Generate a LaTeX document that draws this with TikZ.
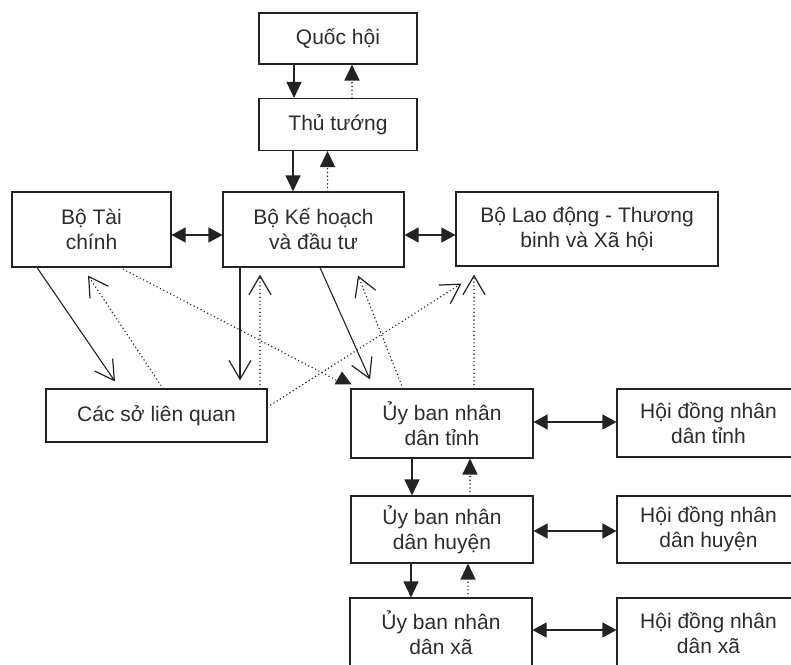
\documentclass[tikz,border=0pt]{standalone}
\usepackage{fontspec}
\setmainfont{Liberation Sans}
\usetikzlibrary{arrows.meta}
\definecolor{ink}{RGB}{35,35,35}
\definecolor{txt}{RGB}{45,45,45}
\tikzset{
  box/.style={draw=ink, line width=1.1pt, align=center, inner sep=0pt,
              font=\fontsize{21}{25}\selectfont, text=txt},
  solidln/.style={draw=ink, line width=1.1pt},
  dotln/.style={draw=ink, line width=1.6pt, line cap=round, dash pattern=on 0pt off 3.8pt},
  fhead/.style={-{Triangle[length=16pt,width=15pt]}},
  dhead/.style={{Triangle[length=14pt,width=15pt]}-{Triangle[length=14pt,width=15pt]}},
  ohead/.style={-{Straight Barb[length=19pt,width=22pt,line width=1.2pt]}},
}
\begin{document}
\begin{tikzpicture}[x=1pt,y=-1pt]
\useasboundingbox (0,0) rectangle (791,664);
\fill[white] (0,0) rectangle (791,664);
\clip (0,0) rectangle (791,664);

% boxes
\node[box, minimum width=158pt, minimum height=51pt] (qh) at (338,38.5) {Quốc hội};
\node[box, minimum width=158pt, minimum height=52pt] (tt) at (338,124.5) {Thủ tướng};
\node[box, minimum width=159pt, minimum height=75pt] (tc) at (91.5,229.5) {Bộ Tài\\chính};
\node[box, minimum width=181pt, minimum height=75pt] (kh) at (313.5,229.5) {Bộ Kế hoạch\\và đầu tư};
\node[box, minimum width=262pt, minimum height=74pt] (ld) at (587,229) {Bộ Lao động - Thương\\binh và Xã hội};
\node[box, minimum width=221pt, minimum height=53pt] (cs) at (156.5,415.5) {Các sở liên quan};
\node[box, minimum width=182pt, minimum height=69pt] (ubt) at (442,423.5) {Ủy ban nhân\\dân tỉnh};
\node[box, minimum width=183pt, minimum height=68pt] (hdt) at (708.5,423) {Hội đồng nhân\\dân tỉnh};
\node[box, minimum width=182pt, minimum height=67pt] (ubh) at (442,529.5) {Ủy ban nhân\\dân huyện};
\node[box, minimum width=183pt, minimum height=67pt] (hdh) at (708.5,529.5) {Hội đồng nhân\\dân huyện};
\node[box, minimum width=182pt, minimum height=70pt] (ubx) at (441,633) {Ủy ban nhân\\dân xã};
\node[box, minimum width=183pt, minimum height=70pt] (hdx) at (708.5,633) {Hội đồng nhân\\dân xã};

% Quoc hoi <-> Thu tuong
\coordinate (a1) at ([xshift=-44pt]qh.south);
\draw[solidln,fhead] (a1) -- (a1 |- tt.north);
\coordinate (a2) at ([xshift=14pt]tt.north);
\draw[dotln,fhead] (a2) -- (a2 |- qh.south);

% Thu tuong <-> Bo KH
\coordinate (a3) at ([xshift=-45pt]tt.south);
\draw[solidln,fhead] (a3) -- (a3 |- kh.north);
\coordinate (a4) at ([xshift=14pt]kh.north);
\draw[dotln,fhead] (a4) -- (a4 |- tt.south);

% horizontal double arrows among ministries
\coordinate (h1) at ([yshift=-5.5pt]tc.east);
\draw[solidln,dhead] (h1) -- (h1 -| kh.west);
\coordinate (h2) at ([yshift=-5.5pt]kh.east);
\draw[solidln,dhead] (h2) -- (h2 -| ld.west);

% Bo Tai chinh <-> Cac so
\draw[solidln,ohead] ([xshift=-54.5pt]tc.south) -- ([xshift=-41.5pt,yshift=7pt]cs.north);
\draw[dotln,ohead] ([xshift=6.5pt]cs.north) -- ([xshift=-3.5pt,yshift=-8pt]tc.south);

% Bo Tai chinh -> UBND tinh (dotted, filled triangle)
\coordinate (tri) at ([xshift=-99pt,yshift=4pt]ubt.north);
\draw[dotln] ([xshift=28.5pt]tc.south) -- ([xshift=-6pt,yshift=4pt]tri);
\fill[ink] ([xshift=-8.5pt]tri) -- ([xshift=8.5pt]tri) -- ([xshift=-1pt,yshift=13pt]tri) -- cycle;

% Bo KH <-> Cac so
\coordinate (b1) at ([xshift=-73.5pt]kh.south);
\draw[solidln,ohead,shorten >=8pt] (b1) -- (b1 |- cs.north);
\coordinate (b2) at ([xshift=103.5pt]cs.north);
\draw[dotln,ohead,shorten >=7pt] (b2) -- (b2 |- kh.south);

% Bo KH <-> UBND tinh
\draw[solidln,ohead] ([xshift=6.5pt]kh.south) -- ([xshift=-72pt,yshift=9pt]ubt.north);
\draw[dotln,ohead] ([xshift=-39pt]ubt.north) -- ([xshift=44.5pt,yshift=-8pt]kh.south);

% to Bo Lao dong
\draw[dotln,ohead] ([yshift=8.5pt]cs.east) -- ([xshift=6pt,yshift=-17pt]ld.south west);
\coordinate (b3) at ([xshift=32pt]ubt.north);
\draw[dotln,ohead,shorten >=8pt] (b3) -- (b3 |- ld.south);

% UBND levels
\coordinate (c1) at ([xshift=-30pt]ubt.south);
\draw[solidln,fhead] (c1) -- (c1 |- ubh.north);
\coordinate (c2) at ([xshift=28pt]ubh.north);
\draw[dotln,fhead] (c2) -- (c2 |- ubt.south);
\coordinate (c3) at ([xshift=-31pt]ubh.south);
\draw[solidln,fhead] (c3) -- (c3 |- ubx.north);
\coordinate (c4) at ([xshift=27pt]ubx.north);
\draw[dotln,fhead] (c4) -- (c4 |- ubh.south);

% UBND <-> HDND
\coordinate (d1) at ([yshift=1.5pt]ubt.east);
\draw[solidln,dhead] (d1) -- (d1 -| hdt.west);
\coordinate (d2) at ([yshift=-1.5pt]ubh.east);
\draw[solidln,dhead] (d2) -- (d2 -| hdh.west);
\coordinate (d3) at ([yshift=3pt]ubx.east);
\draw[solidln,dhead] (d3) -- (d3 -| hdx.west);
\end{tikzpicture}
\end{document}
